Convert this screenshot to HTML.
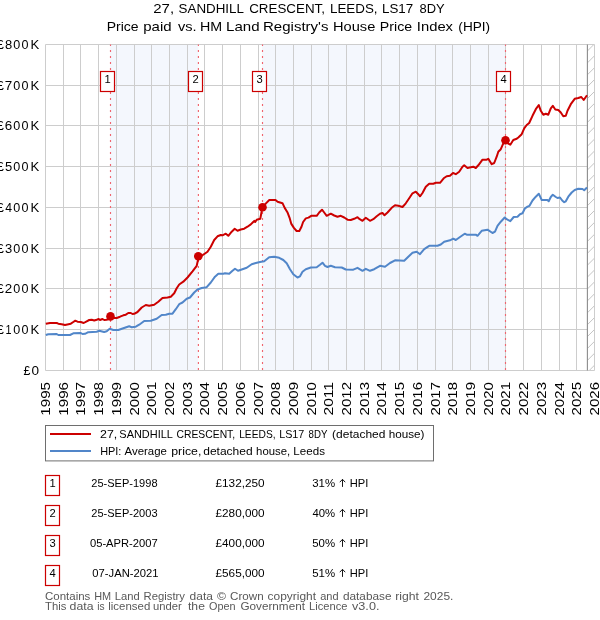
<!DOCTYPE html>
<html><head><meta charset="utf-8"><title>27, SANDHILL CRESCENT, LEEDS, LS17 8DY</title>
<style>html,body{margin:0;padding:0;background:#fff;}body{width:600px;height:620px;overflow:hidden;font-family:"Liberation Sans",sans-serif;}svg{display:block;will-change:transform;}text{font-family:"Liberation Sans",sans-serif;}</style>
</head><body>
<svg width="600" height="620" viewBox="0 0 600 620">
<rect x="0" y="0" width="600" height="620" fill="#ffffff"/>
<rect x="110.0" y="44.5" width="88.4" height="326.0" fill="#f4f7fd"/>
<rect x="262.0" y="44.5" width="243.5" height="326.0" fill="#f4f7fd"/>
<path d="M63.5 44.5V370.5M80.5 44.5V370.5M98.5 44.5V370.5M116.5 44.5V370.5M134.5 44.5V370.5M151.5 44.5V370.5M169.5 44.5V370.5M187.5 44.5V370.5M204.5 44.5V370.5M222.5 44.5V370.5M240.5 44.5V370.5M258.5 44.5V370.5M275.5 44.5V370.5M293.5 44.5V370.5M311.5 44.5V370.5M328.5 44.5V370.5M346.5 44.5V370.5M364.5 44.5V370.5M381.5 44.5V370.5M399.5 44.5V370.5M417.5 44.5V370.5M435.5 44.5V370.5M452.5 44.5V370.5M470.5 44.5V370.5M488.5 44.5V370.5M505.5 44.5V370.5M523.5 44.5V370.5M541.5 44.5V370.5M559.5 44.5V370.5M576.5 44.5V370.5M45.5 329.5H594.5M45.5 288.5H594.5M45.5 248.5H594.5M45.5 207.5H594.5M45.5 166.5H594.5M45.5 125.5H594.5M45.5 85.5H594.5" stroke="#cdcdcd" stroke-width="1" fill="none"/>
<clipPath id="hc"><rect x="587.4" y="44.5" width="7.1" height="326.0"/></clipPath>
<rect x="587.4" y="44.5" width="7.1" height="326.0" fill="#ffffff"/>
<path d="M587.4 39.1l8 -8M587.4 51.0l8 -8M587.4 62.9l8 -8M587.4 74.8l8 -8M587.4 86.7l8 -8M587.4 98.6l8 -8M587.4 110.5l8 -8M587.4 122.4l8 -8M587.4 134.3l8 -8M587.4 146.2l8 -8M587.4 158.1l8 -8M587.4 170.0l8 -8M587.4 181.9l8 -8M587.4 193.8l8 -8M587.4 205.7l8 -8M587.4 217.6l8 -8M587.4 229.5l8 -8M587.4 241.4l8 -8M587.4 253.3l8 -8M587.4 265.2l8 -8M587.4 277.1l8 -8M587.4 289.0l8 -8M587.4 300.9l8 -8M587.4 312.8l8 -8M587.4 324.7l8 -8M587.4 336.6l8 -8M587.4 348.5l8 -8M587.4 360.4l8 -8M587.4 372.3l8 -8" stroke="#bdbdbd" stroke-width="0.9" fill="none" clip-path="url(#hc)"/>
<path d="M45.5 44.5H594.5V370.5H45.5Z" stroke="#cdcdcd" stroke-width="1" fill="none"/>
<path d="M587.4 44.5V370.5" stroke="#8c8c8c" stroke-width="1.1" fill="none"/>
<path d="M110.5 370V44.5" stroke="#f0656e" stroke-width="1.15" stroke-dasharray="2.1 3.9" fill="none"/>
<path d="M198.4 370V44.5" stroke="#f0656e" stroke-width="1.15" stroke-dasharray="2.1 3.9" fill="none"/>
<path d="M262.5 370V44.5" stroke="#f0656e" stroke-width="1.15" stroke-dasharray="2.1 3.9" fill="none"/>
<path d="M505.5 370V44.5" stroke="#f0656e" stroke-width="1.15" stroke-dasharray="2.1 3.9" fill="none"/>
<path d="M45.8 335.0L48.3 334.2L56.7 334.0L58.3 335.0L70.0 335.0L73.3 333.3L80.8 333.0L82.5 334.0L85.0 333.8L88.3 332.2L96.7 331.7L99.2 330.8L104.2 332.0L106.7 331.3L109.7 328.8L113.3 330.0L118.3 330.0L123.3 328.3L129.2 326.3L131.7 327.2L135.8 326.7L139.2 324.7L144.2 321.0L150.8 320.8L156.7 318.8L161.7 315.0L165.8 314.7L169.2 313.7L172.5 313.7L175.8 309.2L179.2 304.2L182.5 302.5L186.7 298.7L190.0 297.5L194.2 292.5L197.5 289.5L201.7 288.0L206.7 287.2L210.8 282.5L215.0 276.7L218.3 273.8L223.3 273.8L225.0 273.3L229.2 273.8L232.5 270.8L235.0 268.7L238.0 270.8L241.7 269.5L246.7 267.8L251.7 264.2L255.8 263.0L260.0 262.0L264.2 261.2L269.2 257.2L274.2 256.7L279.2 257.8L283.3 260.0L286.7 263.3L290.0 269.2L293.3 274.2L297.5 277.5L300.0 276.3L302.5 271.7L305.8 269.2L310.8 267.5L316.7 267.2L320.0 264.7L322.5 262.7L325.0 265.8L327.5 267.0L330.8 265.8L335.0 267.2L341.7 267.5L345.8 269.5L353.3 269.7L357.5 267.8L362.5 270.8L365.8 268.8L370.0 270.8L374.2 269.2L380.0 265.8L385.0 266.7L390.0 263.0L395.0 260.3L404.2 260.8L408.3 256.7L412.5 252.8L416.7 251.7L420.0 254.2L424.2 249.2L429.2 245.8L437.5 245.8L440.8 244.5L444.2 241.7L450.0 240.3L453.3 238.7L455.8 240.0L460.0 237.0L464.7 233.7L466.7 234.7L475.8 234.7L477.5 235.8L481.7 230.8L487.5 229.7L492.5 233.0L495.0 231.7L497.5 225.8L500.8 221.7L504.7 217.5L507.5 219.7L510.3 221.2L513.7 217.0L517.5 216.7L520.0 214.2L522.5 213.3L525.0 208.3L527.5 206.7L529.5 205.8L532.5 200.5L535.8 196.7L538.8 193.7L541.7 200.0L547.5 200.0L548.7 201.2L550.8 197.0L552.8 194.7L555.8 197.0L557.5 198.0L560.0 197.5L562.2 200.5L564.2 202.2L565.8 201.3L568.3 196.7L571.7 192.5L574.7 190.0L578.3 188.8L582.5 189.0L584.2 190.3L587.0 187.5" stroke="#5186c9" stroke-width="2" fill="none" stroke-linejoin="round" stroke-linecap="butt"/>
<path d="M45.8 323.8L50.0 323.0L56.7 323.0L58.3 323.7L61.7 324.2L65.0 325.0L70.8 323.7L73.3 322.0L75.3 320.7L77.5 321.7L80.8 322.0L83.7 323.0L86.7 321.3L89.2 320.0L91.7 319.7L94.2 320.5L96.7 319.7L98.7 319.0L100.0 320.0L102.5 319.0L104.2 320.0L106.7 319.7L110.3 318.6L113.3 318.0L116.7 318.0L120.0 316.7L123.3 315.3L125.8 314.7L128.3 313.0L130.8 313.0L132.5 314.0L134.2 313.8L137.5 312.0L141.7 307.5L145.8 305.0L149.2 305.8L154.2 304.7L158.3 301.7L162.5 298.0L167.5 297.5L170.8 296.7L174.2 293.3L176.7 288.3L179.2 284.5L183.3 281.7L187.5 277.5L192.5 271.3L196.7 265.8L198.0 260.0L198.3 256.3L201.7 255.8L207.5 251.7L210.8 246.7L214.2 240.0L217.5 236.3L220.8 235.0L222.5 235.3L225.8 233.7L228.3 235.8L231.7 231.7L234.7 228.8L237.5 230.8L240.8 229.5L244.2 228.7L247.5 226.7L250.8 224.4L252.7 222.5L254.3 220.9L255.2 222.0L256.7 219.8L260.3 218.7L261.4 212.8L262.5 207.1L265.2 204.1L269.3 200.0L275.5 200.0L277.6 201.7L282.5 203.2L284.7 207.9L287.4 212.2L289.5 217.6L291.2 223.6L293.9 227.9L296.6 231.0L299.3 231.0L301.5 226.8L303.1 222.0L305.8 218.4L308.5 217.6L311.2 215.8L316.7 215.8L319.2 212.5L322.0 209.7L324.2 212.5L326.7 215.8L330.8 213.7L334.2 215.5L337.5 216.7L340.8 215.8L344.2 217.5L347.5 219.7L350.8 220.0L354.2 218.8L357.5 217.2L359.7 219.2L362.5 220.8L365.8 217.8L370.0 220.8L373.3 219.2L376.7 216.3L380.0 213.8L382.5 213.0L384.5 215.3L387.5 212.5L391.7 207.8L395.0 205.3L398.3 205.8L402.5 207.0L405.8 203.3L409.2 198.3L412.5 193.3L415.8 191.7L418.3 194.2L420.0 196.3L422.5 193.0L425.8 186.7L429.2 183.7L433.3 183.7L435.8 182.8L440.0 182.8L443.7 178.3L446.7 176.2L450.0 175.8L453.0 173.0L455.8 174.2L459.2 171.7L462.5 166.7L464.2 165.3L467.5 168.0L470.8 167.2L473.3 166.7L475.8 168.0L478.3 165.3L482.5 159.7L486.7 159.7L488.3 158.8L491.7 164.2L494.2 163.0L496.7 156.7L498.3 151.7L500.8 149.2L503.3 143.3L505.5 140.3L508.3 143.7L510.3 144.7L513.3 140.0L516.7 138.8L518.3 137.5L521.7 134.2L524.2 128.3L526.7 125.0L529.2 123.0L532.5 115.8L535.8 109.2L538.8 105.0L540.8 110.8L543.3 114.7L545.8 113.7L548.3 114.7L550.8 108.3L552.8 105.8L555.3 109.5L558.3 110.0L560.8 112.5L563.3 116.3L565.8 115.8L567.5 110.8L570.8 104.2L574.7 98.8L578.3 98.0L581.3 97.0L583.7 100.0L587.0 95.3" stroke="#cc0000" stroke-width="2" fill="none" stroke-linejoin="round" stroke-linecap="butt"/>
<circle cx="110.5" cy="316.4" r="4.3" fill="#cc0000"/>
<circle cx="198.3" cy="256.2" r="4.3" fill="#cc0000"/>
<circle cx="262.5" cy="207.2" r="4.3" fill="#cc0000"/>
<circle cx="505.5" cy="140.2" r="4.3" fill="#cc0000"/>
<rect x="100.5" y="71.5" width="14" height="20" fill="#ffffff" stroke="#cc0000" stroke-width="1.2"/>
<text x="107.5" y="83" font-size="11.2" text-anchor="middle" fill="#000">1</text>
<rect x="188.5" y="71.5" width="14" height="20" fill="#ffffff" stroke="#cc0000" stroke-width="1.2"/>
<text x="195.5" y="83" font-size="11.2" text-anchor="middle" fill="#000">2</text>
<rect x="252.5" y="71.5" width="14" height="20" fill="#ffffff" stroke="#cc0000" stroke-width="1.2"/>
<text x="259.5" y="83" font-size="11.2" text-anchor="middle" fill="#000">3</text>
<rect x="496.5" y="71.5" width="14" height="20" fill="#ffffff" stroke="#cc0000" stroke-width="1.2"/>
<text x="503.5" y="83" font-size="11.2" text-anchor="middle" fill="#000">4</text>
<rect x="45.5" y="425.5" width="388" height="35.4" fill="#ffffff" stroke="#6e6e6e" stroke-width="1"/>
<path d="M50 434H91" stroke="#cc0000" stroke-width="2" fill="none"/>
<path d="M50 451H91" stroke="#5186c9" stroke-width="2" fill="none"/>
<rect x="45.5" y="475.5" width="14" height="20" fill="#ffffff" stroke="#cc0000" stroke-width="1.2"/>
<text x="52.5" y="486.7" font-size="11.2" text-anchor="middle" fill="#000">1</text>
<path d="M342.5 486.9V479.4M339.8 482.2L342.5 479.3L345.2 482.2" stroke="#000" stroke-width="0.9" fill="none"/>
<rect x="45.5" y="505.5" width="14" height="20" fill="#ffffff" stroke="#cc0000" stroke-width="1.2"/>
<text x="52.5" y="516.7" font-size="11.2" text-anchor="middle" fill="#000">2</text>
<path d="M342.5 516.9V509.4M339.8 512.2L342.5 509.3L345.2 512.2" stroke="#000" stroke-width="0.9" fill="none"/>
<rect x="45.5" y="535.5" width="14" height="20" fill="#ffffff" stroke="#cc0000" stroke-width="1.2"/>
<text x="52.5" y="546.7" font-size="11.2" text-anchor="middle" fill="#000">3</text>
<path d="M342.5 546.9V539.4M339.8 542.2L342.5 539.3L345.2 542.2" stroke="#000" stroke-width="0.9" fill="none"/>
<rect x="45.5" y="565.5" width="14" height="20" fill="#ffffff" stroke="#cc0000" stroke-width="1.2"/>
<text x="52.5" y="576.7" font-size="11.2" text-anchor="middle" fill="#000">4</text>
<path d="M342.5 576.9V569.4M339.8 572.2L342.5 569.3L345.2 572.2" stroke="#000" stroke-width="0.9" fill="none"/>
<text x="153.30" y="12.8" font-size="12.5" textLength="20.82" lengthAdjust="spacingAndGlyphs" fill="#000">27,</text>
<text x="178.58" y="12.8" font-size="12.5" textLength="65.35" lengthAdjust="spacingAndGlyphs" fill="#000">SANDHILL</text>
<text x="249.17" y="12.8" font-size="12.5" textLength="75.83" lengthAdjust="spacingAndGlyphs" fill="#000">CRESCENT,</text>
<text x="329.95" y="12.8" font-size="12.5" textLength="47.65" lengthAdjust="spacingAndGlyphs" fill="#000">LEEDS,</text>
<text x="381.96" y="12.8" font-size="12.5" textLength="31.18" lengthAdjust="spacingAndGlyphs" fill="#000">LS17</text>
<text x="419.60" y="12.8" font-size="12.5" textLength="25.14" lengthAdjust="spacingAndGlyphs" fill="#000">8DY</text>
<text x="106.71" y="30.7" font-size="12.6" textLength="31.86" lengthAdjust="spacingAndGlyphs" fill="#000">Price</text>
<text x="143.26" y="30.7" font-size="12.6" textLength="28.38" lengthAdjust="spacingAndGlyphs" fill="#000">paid</text>
<text x="178.00" y="30.7" font-size="12.6" textLength="18.62" lengthAdjust="spacingAndGlyphs" fill="#000">vs.</text>
<text x="200.09" y="30.7" font-size="12.6" textLength="22.17" lengthAdjust="spacingAndGlyphs" fill="#000">HM</text>
<text x="226.02" y="30.7" font-size="12.6" textLength="33.52" lengthAdjust="spacingAndGlyphs" fill="#000">Land</text>
<text x="263.03" y="30.7" font-size="12.6" textLength="65.44" lengthAdjust="spacingAndGlyphs" fill="#000">Registry's</text>
<text x="333.06" y="30.7" font-size="12.6" textLength="42.23" lengthAdjust="spacingAndGlyphs" fill="#000">House</text>
<text x="379.89" y="30.7" font-size="12.6" textLength="32.28" lengthAdjust="spacingAndGlyphs" fill="#000">Price</text>
<text x="416.85" y="30.7" font-size="12.6" textLength="36.15" lengthAdjust="spacingAndGlyphs" fill="#000">Index</text>
<text x="458.36" y="30.7" font-size="12.6" textLength="31.74" lengthAdjust="spacingAndGlyphs" fill="#000">(HPI)</text>
<text x="23.51" y="374.8" font-size="13.2" textLength="6.91" lengthAdjust="spacingAndGlyphs" fill="#000">£</text>
<text x="31.57" y="374.8" font-size="13.2" textLength="7.56" lengthAdjust="spacingAndGlyphs" fill="#000">0</text>
<text x="-3.04" y="333.8" font-size="13.2" textLength="6.91" lengthAdjust="spacingAndGlyphs" fill="#000">£</text>
<text x="5.62" y="333.8" font-size="13.2" textLength="6.01" lengthAdjust="spacingAndGlyphs" fill="#000">1</text>
<text x="13.21" y="333.8" font-size="13.2" textLength="7.01" lengthAdjust="spacingAndGlyphs" fill="#000">0</text>
<text x="21.41" y="333.8" font-size="13.2" textLength="7.01" lengthAdjust="spacingAndGlyphs" fill="#000">0</text>
<text x="30.57" y="333.8" font-size="13.2" textLength="8.77" lengthAdjust="spacingAndGlyphs" fill="#000">K</text>
<text x="-3.04" y="292.8" font-size="13.2" textLength="6.91" lengthAdjust="spacingAndGlyphs" fill="#000">£</text>
<text x="4.87" y="292.8" font-size="13.2" textLength="7.47" lengthAdjust="spacingAndGlyphs" fill="#000">2</text>
<text x="13.21" y="292.8" font-size="13.2" textLength="7.01" lengthAdjust="spacingAndGlyphs" fill="#000">0</text>
<text x="21.41" y="292.8" font-size="13.2" textLength="7.01" lengthAdjust="spacingAndGlyphs" fill="#000">0</text>
<text x="30.57" y="292.8" font-size="13.2" textLength="8.77" lengthAdjust="spacingAndGlyphs" fill="#000">K</text>
<text x="-3.04" y="252.8" font-size="13.2" textLength="6.91" lengthAdjust="spacingAndGlyphs" fill="#000">£</text>
<text x="5.09" y="252.8" font-size="13.2" textLength="7.23" lengthAdjust="spacingAndGlyphs" fill="#000">3</text>
<text x="13.21" y="252.8" font-size="13.2" textLength="7.01" lengthAdjust="spacingAndGlyphs" fill="#000">0</text>
<text x="21.41" y="252.8" font-size="13.2" textLength="7.01" lengthAdjust="spacingAndGlyphs" fill="#000">0</text>
<text x="30.57" y="252.8" font-size="13.2" textLength="8.77" lengthAdjust="spacingAndGlyphs" fill="#000">K</text>
<text x="-3.04" y="211.8" font-size="13.2" textLength="6.91" lengthAdjust="spacingAndGlyphs" fill="#000">£</text>
<text x="5.31" y="211.8" font-size="13.2" textLength="6.80" lengthAdjust="spacingAndGlyphs" fill="#000">4</text>
<text x="13.21" y="211.8" font-size="13.2" textLength="7.01" lengthAdjust="spacingAndGlyphs" fill="#000">0</text>
<text x="21.41" y="211.8" font-size="13.2" textLength="7.01" lengthAdjust="spacingAndGlyphs" fill="#000">0</text>
<text x="30.57" y="211.8" font-size="13.2" textLength="8.77" lengthAdjust="spacingAndGlyphs" fill="#000">K</text>
<text x="-3.04" y="170.8" font-size="13.2" textLength="6.91" lengthAdjust="spacingAndGlyphs" fill="#000">£</text>
<text x="5.09" y="170.8" font-size="13.2" textLength="7.23" lengthAdjust="spacingAndGlyphs" fill="#000">5</text>
<text x="13.21" y="170.8" font-size="13.2" textLength="7.01" lengthAdjust="spacingAndGlyphs" fill="#000">0</text>
<text x="21.41" y="170.8" font-size="13.2" textLength="7.01" lengthAdjust="spacingAndGlyphs" fill="#000">0</text>
<text x="30.57" y="170.8" font-size="13.2" textLength="8.77" lengthAdjust="spacingAndGlyphs" fill="#000">K</text>
<text x="-3.04" y="129.8" font-size="13.2" textLength="6.91" lengthAdjust="spacingAndGlyphs" fill="#000">£</text>
<text x="4.87" y="129.8" font-size="13.2" textLength="7.47" lengthAdjust="spacingAndGlyphs" fill="#000">6</text>
<text x="13.21" y="129.8" font-size="13.2" textLength="7.01" lengthAdjust="spacingAndGlyphs" fill="#000">0</text>
<text x="21.41" y="129.8" font-size="13.2" textLength="7.01" lengthAdjust="spacingAndGlyphs" fill="#000">0</text>
<text x="30.57" y="129.8" font-size="13.2" textLength="8.77" lengthAdjust="spacingAndGlyphs" fill="#000">K</text>
<text x="-3.04" y="89.8" font-size="13.2" textLength="6.91" lengthAdjust="spacingAndGlyphs" fill="#000">£</text>
<text x="4.87" y="89.8" font-size="13.2" textLength="7.47" lengthAdjust="spacingAndGlyphs" fill="#000">7</text>
<text x="13.21" y="89.8" font-size="13.2" textLength="7.01" lengthAdjust="spacingAndGlyphs" fill="#000">0</text>
<text x="21.41" y="89.8" font-size="13.2" textLength="7.01" lengthAdjust="spacingAndGlyphs" fill="#000">0</text>
<text x="30.57" y="89.8" font-size="13.2" textLength="8.77" lengthAdjust="spacingAndGlyphs" fill="#000">K</text>
<text x="-3.04" y="48.8" font-size="13.2" textLength="6.91" lengthAdjust="spacingAndGlyphs" fill="#000">£</text>
<text x="5.09" y="48.8" font-size="13.2" textLength="7.23" lengthAdjust="spacingAndGlyphs" fill="#000">8</text>
<text x="13.21" y="48.8" font-size="13.2" textLength="7.01" lengthAdjust="spacingAndGlyphs" fill="#000">0</text>
<text x="21.41" y="48.8" font-size="13.2" textLength="7.01" lengthAdjust="spacingAndGlyphs" fill="#000">0</text>
<text x="30.57" y="48.8" font-size="13.2" textLength="8.77" lengthAdjust="spacingAndGlyphs" fill="#000">K</text>
<text transform="translate(50.10 414.80) rotate(-90)" x="-0.95" y="0" font-size="13.2" textLength="33.76" lengthAdjust="spacingAndGlyphs" fill="#000">1995</text>
<text transform="translate(68.10 414.80) rotate(-90)" x="-0.95" y="0" font-size="13.2" textLength="33.76" lengthAdjust="spacingAndGlyphs" fill="#000">1996</text>
<text transform="translate(85.10 414.80) rotate(-90)" x="-0.95" y="0" font-size="13.2" textLength="33.76" lengthAdjust="spacingAndGlyphs" fill="#000">1997</text>
<text transform="translate(103.10 414.80) rotate(-90)" x="-0.95" y="0" font-size="13.2" textLength="33.76" lengthAdjust="spacingAndGlyphs" fill="#000">1998</text>
<text transform="translate(121.10 414.80) rotate(-90)" x="-0.95" y="0" font-size="13.2" textLength="33.76" lengthAdjust="spacingAndGlyphs" fill="#000">1999</text>
<text transform="translate(139.10 414.80) rotate(-90)" x="-0.70" y="0" font-size="13.2" textLength="33.27" lengthAdjust="spacingAndGlyphs" fill="#000">2000</text>
<text transform="translate(156.10 414.80) rotate(-90)" x="-0.71" y="0" font-size="13.2" textLength="33.52" lengthAdjust="spacingAndGlyphs" fill="#000">2001</text>
<text transform="translate(174.10 414.80) rotate(-90)" x="-0.71" y="0" font-size="13.2" textLength="33.52" lengthAdjust="spacingAndGlyphs" fill="#000">2002</text>
<text transform="translate(192.10 414.80) rotate(-90)" x="-0.71" y="0" font-size="13.2" textLength="33.52" lengthAdjust="spacingAndGlyphs" fill="#000">2003</text>
<text transform="translate(209.10 414.80) rotate(-90)" x="-0.70" y="0" font-size="13.2" textLength="33.27" lengthAdjust="spacingAndGlyphs" fill="#000">2004</text>
<text transform="translate(227.10 414.80) rotate(-90)" x="-0.71" y="0" font-size="13.2" textLength="33.52" lengthAdjust="spacingAndGlyphs" fill="#000">2005</text>
<text transform="translate(245.10 414.80) rotate(-90)" x="-0.71" y="0" font-size="13.2" textLength="33.52" lengthAdjust="spacingAndGlyphs" fill="#000">2006</text>
<text transform="translate(263.10 414.80) rotate(-90)" x="-0.71" y="0" font-size="13.2" textLength="33.52" lengthAdjust="spacingAndGlyphs" fill="#000">2007</text>
<text transform="translate(280.10 414.80) rotate(-90)" x="-0.71" y="0" font-size="13.2" textLength="33.52" lengthAdjust="spacingAndGlyphs" fill="#000">2008</text>
<text transform="translate(298.10 414.80) rotate(-90)" x="-0.71" y="0" font-size="13.2" textLength="33.52" lengthAdjust="spacingAndGlyphs" fill="#000">2009</text>
<text transform="translate(316.10 414.80) rotate(-90)" x="-0.70" y="0" font-size="13.2" textLength="33.27" lengthAdjust="spacingAndGlyphs" fill="#000">2010</text>
<text transform="translate(333.10 414.80) rotate(-90)" x="-0.73" y="0" font-size="13.2" textLength="33.56" lengthAdjust="spacingAndGlyphs" fill="#000">2011</text>
<text transform="translate(351.10 414.80) rotate(-90)" x="-0.71" y="0" font-size="13.2" textLength="33.52" lengthAdjust="spacingAndGlyphs" fill="#000">2012</text>
<text transform="translate(369.10 414.80) rotate(-90)" x="-0.71" y="0" font-size="13.2" textLength="33.52" lengthAdjust="spacingAndGlyphs" fill="#000">2013</text>
<text transform="translate(386.10 414.80) rotate(-90)" x="-0.70" y="0" font-size="13.2" textLength="33.27" lengthAdjust="spacingAndGlyphs" fill="#000">2014</text>
<text transform="translate(404.10 414.80) rotate(-90)" x="-0.71" y="0" font-size="13.2" textLength="33.52" lengthAdjust="spacingAndGlyphs" fill="#000">2015</text>
<text transform="translate(422.10 414.80) rotate(-90)" x="-0.71" y="0" font-size="13.2" textLength="33.52" lengthAdjust="spacingAndGlyphs" fill="#000">2016</text>
<text transform="translate(440.10 414.80) rotate(-90)" x="-0.71" y="0" font-size="13.2" textLength="33.52" lengthAdjust="spacingAndGlyphs" fill="#000">2017</text>
<text transform="translate(457.10 414.80) rotate(-90)" x="-0.71" y="0" font-size="13.2" textLength="33.52" lengthAdjust="spacingAndGlyphs" fill="#000">2018</text>
<text transform="translate(475.10 414.80) rotate(-90)" x="-0.71" y="0" font-size="13.2" textLength="33.52" lengthAdjust="spacingAndGlyphs" fill="#000">2019</text>
<text transform="translate(493.10 414.80) rotate(-90)" x="-0.70" y="0" font-size="13.2" textLength="33.27" lengthAdjust="spacingAndGlyphs" fill="#000">2020</text>
<text transform="translate(510.10 414.80) rotate(-90)" x="-0.71" y="0" font-size="13.2" textLength="33.52" lengthAdjust="spacingAndGlyphs" fill="#000">2021</text>
<text transform="translate(528.10 414.80) rotate(-90)" x="-0.71" y="0" font-size="13.2" textLength="33.52" lengthAdjust="spacingAndGlyphs" fill="#000">2022</text>
<text transform="translate(546.10 414.80) rotate(-90)" x="-0.71" y="0" font-size="13.2" textLength="33.52" lengthAdjust="spacingAndGlyphs" fill="#000">2023</text>
<text transform="translate(564.10 414.80) rotate(-90)" x="-0.70" y="0" font-size="13.2" textLength="33.27" lengthAdjust="spacingAndGlyphs" fill="#000">2024</text>
<text transform="translate(581.10 414.80) rotate(-90)" x="-0.71" y="0" font-size="13.2" textLength="33.52" lengthAdjust="spacingAndGlyphs" fill="#000">2025</text>
<text transform="translate(599.10 414.80) rotate(-90)" x="-0.71" y="0" font-size="13.2" textLength="33.52" lengthAdjust="spacingAndGlyphs" fill="#000">2026</text>
<text x="100.02" y="437.8" font-size="11.4" textLength="17.20" lengthAdjust="spacingAndGlyphs" fill="#000">27,</text>
<text x="119.36" y="437.8" font-size="11.4" textLength="53.51" lengthAdjust="spacingAndGlyphs" fill="#000">SANDHILL</text>
<text x="176.51" y="437.8" font-size="11.4" textLength="58.66" lengthAdjust="spacingAndGlyphs" fill="#000">CRESCENT,</text>
<text x="239.20" y="437.8" font-size="11.4" textLength="36.36" lengthAdjust="spacingAndGlyphs" fill="#000">LEEDS,</text>
<text x="279.16" y="437.8" font-size="11.4" textLength="25.18" lengthAdjust="spacingAndGlyphs" fill="#000">LS17</text>
<text x="308.60" y="437.8" font-size="11.4" textLength="18.81" lengthAdjust="spacingAndGlyphs" fill="#000">8DY</text>
<text x="332.14" y="437.8" font-size="11.4" textLength="53.23" lengthAdjust="spacingAndGlyphs" fill="#000">(detached</text>
<text x="388.77" y="437.8" font-size="11.4" textLength="35.74" lengthAdjust="spacingAndGlyphs" fill="#000">house)</text>
<text x="100.15" y="454.9" font-size="11.4" textLength="21.24" lengthAdjust="spacingAndGlyphs" fill="#000">HPI:</text>
<text x="124.60" y="454.9" font-size="11.4" textLength="42.26" lengthAdjust="spacingAndGlyphs" fill="#000">Average</text>
<text x="171.23" y="454.9" font-size="11.4" textLength="30.09" lengthAdjust="spacingAndGlyphs" fill="#000">price,</text>
<text x="203.22" y="454.9" font-size="11.4" textLength="49.45" lengthAdjust="spacingAndGlyphs" fill="#000">detached</text>
<text x="256.09" y="454.9" font-size="11.4" textLength="34.06" lengthAdjust="spacingAndGlyphs" fill="#000">house,</text>
<text x="293.39" y="454.9" font-size="11.4" textLength="31.57" lengthAdjust="spacingAndGlyphs" fill="#000">Leeds</text>
<text x="91.28" y="486.7" font-size="11.3" textLength="66.26" lengthAdjust="spacingAndGlyphs" fill="#000">25-SEP-1998</text>
<text x="215.52" y="486.7" font-size="11.3" textLength="49.08" lengthAdjust="spacingAndGlyphs" fill="#000">£132,250</text>
<text x="312.24" y="486.7" font-size="11.3" textLength="22.90" lengthAdjust="spacingAndGlyphs" fill="#000">31%</text>
<text x="349.83" y="486.7" font-size="11.3" textLength="18.58" lengthAdjust="spacingAndGlyphs" fill="#000">HPI</text>
<text x="91.28" y="516.7" font-size="11.3" textLength="66.26" lengthAdjust="spacingAndGlyphs" fill="#000">25-SEP-2003</text>
<text x="215.52" y="516.7" font-size="11.3" textLength="49.08" lengthAdjust="spacingAndGlyphs" fill="#000">£280,000</text>
<text x="312.42" y="516.7" font-size="11.3" textLength="22.72" lengthAdjust="spacingAndGlyphs" fill="#000">40%</text>
<text x="349.83" y="516.7" font-size="11.3" textLength="18.58" lengthAdjust="spacingAndGlyphs" fill="#000">HPI</text>
<text x="89.95" y="546.7" font-size="11.3" textLength="67.80" lengthAdjust="spacingAndGlyphs" fill="#000">05-APR-2007</text>
<text x="215.52" y="546.7" font-size="11.3" textLength="49.08" lengthAdjust="spacingAndGlyphs" fill="#000">£400,000</text>
<text x="312.24" y="546.7" font-size="11.3" textLength="22.90" lengthAdjust="spacingAndGlyphs" fill="#000">50%</text>
<text x="349.83" y="546.7" font-size="11.3" textLength="18.58" lengthAdjust="spacingAndGlyphs" fill="#000">HPI</text>
<text x="92.35" y="576.7" font-size="11.3" textLength="66.11" lengthAdjust="spacingAndGlyphs" fill="#000">07-JAN-2021</text>
<text x="215.52" y="576.7" font-size="11.3" textLength="49.08" lengthAdjust="spacingAndGlyphs" fill="#000">£565,000</text>
<text x="312.24" y="576.7" font-size="11.3" textLength="22.90" lengthAdjust="spacingAndGlyphs" fill="#000">51%</text>
<text x="349.83" y="576.7" font-size="11.3" textLength="18.58" lengthAdjust="spacingAndGlyphs" fill="#000">HPI</text>
<text x="45.06" y="599.8" font-size="10.4" textLength="45.30" lengthAdjust="spacingAndGlyphs" fill="#585858">Contains</text>
<text x="94.15" y="599.8" font-size="10.4" textLength="16.99" lengthAdjust="spacingAndGlyphs" fill="#585858">HM</text>
<text x="114.73" y="599.8" font-size="10.4" textLength="24.90" lengthAdjust="spacingAndGlyphs" fill="#585858">Land</text>
<text x="143.52" y="599.8" font-size="10.4" textLength="41.48" lengthAdjust="spacingAndGlyphs" fill="#585858">Registry</text>
<text x="189.63" y="599.8" font-size="10.4" textLength="23.30" lengthAdjust="spacingAndGlyphs" fill="#585858">data</text>
<text x="217.00" y="599.8" font-size="10.4" textLength="9.03" lengthAdjust="spacingAndGlyphs" fill="#585858">©</text>
<text x="230.05" y="599.8" font-size="10.4" textLength="33.60" lengthAdjust="spacingAndGlyphs" fill="#585858">Crown</text>
<text x="267.63" y="599.8" font-size="10.4" textLength="48.33" lengthAdjust="spacingAndGlyphs" fill="#585858">copyright</text>
<text x="320.26" y="599.8" font-size="10.4" textLength="18.36" lengthAdjust="spacingAndGlyphs" fill="#585858">and</text>
<text x="342.93" y="599.8" font-size="10.4" textLength="48.55" lengthAdjust="spacingAndGlyphs" fill="#585858">database</text>
<text x="395.24" y="599.8" font-size="10.4" textLength="23.72" lengthAdjust="spacingAndGlyphs" fill="#585858">right</text>
<text x="423.44" y="599.8" font-size="10.4" textLength="29.94" lengthAdjust="spacingAndGlyphs" fill="#585858">2025.</text>
<text x="45.02" y="609.8" font-size="10.4" textLength="21.33" lengthAdjust="spacingAndGlyphs" fill="#585858">This</text>
<text x="69.62" y="609.8" font-size="10.4" textLength="23.91" lengthAdjust="spacingAndGlyphs" fill="#585858">data</text>
<text x="97.36" y="609.8" font-size="10.4" textLength="7.35" lengthAdjust="spacingAndGlyphs" fill="#585858">is</text>
<text x="108.29" y="609.8" font-size="10.4" textLength="41.96" lengthAdjust="spacingAndGlyphs" fill="#585858">licensed</text>
<text x="152.90" y="609.8" font-size="10.4" textLength="28.76" lengthAdjust="spacingAndGlyphs" fill="#585858">under</text>
<text x="188.00" y="609.8" font-size="10.4" textLength="16.89" lengthAdjust="spacingAndGlyphs" fill="#585858">the</text>
<text x="209.09" y="609.8" font-size="10.4" textLength="26.52" lengthAdjust="spacingAndGlyphs" fill="#585858">Open</text>
<text x="240.45" y="609.8" font-size="10.4" textLength="64.51" lengthAdjust="spacingAndGlyphs" fill="#585858">Government</text>
<text x="309.13" y="609.8" font-size="10.4" textLength="38.32" lengthAdjust="spacingAndGlyphs" fill="#585858">Licence</text>
<text x="352.00" y="609.8" font-size="10.4" textLength="27.44" lengthAdjust="spacingAndGlyphs" fill="#585858">v3.0.</text>
</svg>
</body></html>
